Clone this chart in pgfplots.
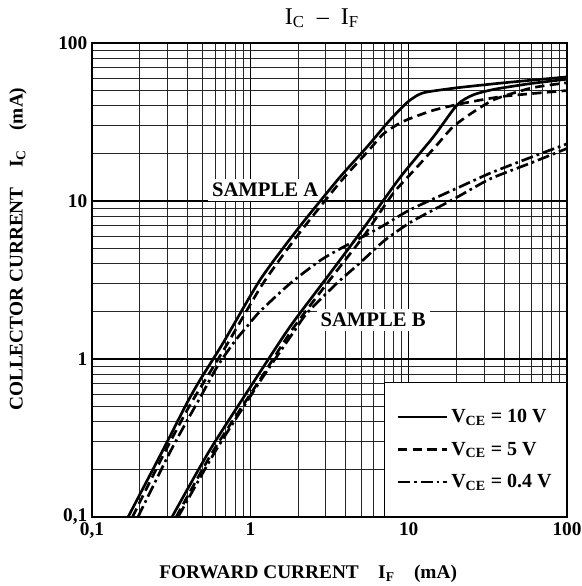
\documentclass[border=0pt]{standalone}
\usepackage{fontspec}
\setmainfont{Liberation Serif}
\usepackage{pgfplots}
\pgfplotsset{compat=1.18}

\begin{document}
\begin{tikzpicture}
\begin{axis}[
    xmode=log, ymode=log,
    width=356.25pt, height=355.5pt,
    scale only axis,
    xmin=0.1, xmax=100, ymin=0.1, ymax=100,
    xtick={0.1,1,10,100}, xticklabels={{0,1},1,10,100},
    ytick={0.1,1,10,100}, yticklabels={{0,1},1,10,100},
    minor xtick={0.2,0.3,0.4,0.5,0.6,0.7,0.8,0.9,2,3,4,5,6,7,8,9,20,30,40,50,60,70,80,90},
    minor ytick={0.2,0.3,0.4,0.5,0.6,0.7,0.8,0.9,2,3,4,5,6,7,8,9,20,30,40,50,60,70,80,90},
    major tick length=0pt, minor tick length=0pt,
    grid=both,
    major grid style={black, line width=1pt},
    minor grid style={black!85, line width=0.7pt},
    axis line style={black, line width=1.4pt},
    tick label style={font=\bfseries\fontsize{14.5}{14.5}\selectfont},
    xticklabel style={yshift=-1pt},
    xlabel={FORWARD CURRENT\quad I\textsubscript{F}\quad (mA)},
    ylabel={COLLECTOR CURRENT\quad I\textsubscript{C}\quad (mA)},
    xlabel style={font=\bfseries\fontsize{14.5}{14.5}\selectfont, at={(axis description cs:0.455,-0.12)}, anchor=center},
    ylabel style={font=\bfseries\fontsize{14.5}{14.5}\selectfont, at={(axis description cs:-0.156,0.565)}, anchor=center},
    title={I\textsubscript{C}\ \ --\ \ I\textsubscript{F}},
    title style={font=\fontsize{18}{18}\selectfont, at={(axis description cs:0.484,1.035)}, anchor=center},
    legend style={at={(1,0)}, anchor=south east, draw=black, line width=1pt, fill=white,
        font=\bfseries\fontsize{15}{15}\selectfont, inner xsep=9pt, inner ysep=18pt,
        row sep=9pt, cells={anchor=west}},
    legend image code/.code={\draw[#1] (0pt,0pt) -- (37pt,0pt);},
]
\node[fill=white, inner sep=3pt, font=\bfseries\fontsize{15.5}{15.5}\selectfont] at (axis cs:1.24,11.7) {SAMPLE A};
\node[fill=white, inner sep=3pt, font=\bfseries\fontsize{15.5}{15.5}\selectfont] at (axis cs:5.96,1.77) {SAMPLE B};

% Sample A, VCE = 10 V
\addplot[black, line width=2pt, smooth, tension=0.4] coordinates {
 (0.169,0.1) (0.281,0.266) (0.398,0.527) (0.481,0.736) (0.672,1.26) (1.15,3.16)
 (1.97,6.55) (3.6,13.8) (5.46,22) (7.5,32) (9.77,42) (11.5,47) (13.1,49)
 (20,52) (40,56) (100,61)};
\addlegendentry{V\textsubscript{CE} = 10 V}
% Sample A, VCE = 5 V
\addplot[black, line width=2pt, dash pattern=on 7pt off 4pt, smooth, tension=0.4] coordinates {
 (0.18,0.1) (0.29,0.26) (0.42,0.52) (0.7,1.2) (1.2,3.0) (2.05,6.3) (3.7,13.2)
 (5.5,20.5) (6.9,26.5) (8.5,30.5) (10,33) (14.3,37.5) (22,41.5) (40,46) (100,50)};
\addlegendentry{V\textsubscript{CE} = 5 V}
% Sample A, VCE = 0.4 V
\addplot[black, line width=2pt, dash pattern=on 9pt off 3pt on 2pt off 3pt, smooth, tension=0.4] coordinates {
 (0.195,0.1) (0.3,0.24) (0.37,0.356) (0.48,0.566) (0.62,0.9) (0.8,1.3) (0.95,1.6)
 (1.15,2.0) (1.78,3.0) (2.76,4.2) (3.85,5.1) (6.6,6.8) (10.2,8.8) (20,12)
 (32.7,15) (60,19) (100,23)};
\addlegendentry{V\textsubscript{CE} = 0.4 V}

% Sample B, VCE = 10 V
\addplot[black, line width=2pt, smooth, tension=0.4, forget plot] coordinates {
 (0.32,0.1) (0.556,0.266) (1.1,0.77) (1.78,1.6) (3.06,3.3) (4.93,6.27) (8.83,14.1)
 (14.3,25.4) (20.2,40.5) (25.5,46.9) (35,51) (60,55.5) (100,59)};
% Sample B, VCE = 5 V
\addplot[black, line width=2pt, dash pattern=on 7pt off 4pt, smooth, tension=0.4, forget plot] coordinates {
 (0.34,0.1) (0.58,0.26) (1.15,0.74) (1.85,1.55) (3.2,3.2) (5.2,6.0) (8,11.2)
 (11.3,16.4) (15,22.5) (19,29.4) (25,36) (35,44) (60,52) (100,56)};
% Sample B, VCE = 0.4 V
\addplot[black, line width=2pt, dash pattern=on 9pt off 3pt on 2pt off 3pt, smooth, tension=0.4, forget plot] coordinates {
 (0.35,0.1) (0.6,0.26) (1.15,0.72) (1.85,1.45) (2.28,1.95) (3.5,3.0) (4.93,4.06)
 (7,5.6) (10.2,7.3) (15,9) (20,10.5) (32.7,13.8) (60,17.5) (100,21.5)};

\coordinate (bl) at (rel axis cs:0,0);
\coordinate (tr) at (rel axis cs:1,1);
\end{axis}
\pgfresetboundingbox
\path ([xshift=-69pt,yshift=-51.75pt]bl) rectangle ([xshift=10.5pt,yshift=32.25pt]tr);
\end{tikzpicture}
\end{document}
